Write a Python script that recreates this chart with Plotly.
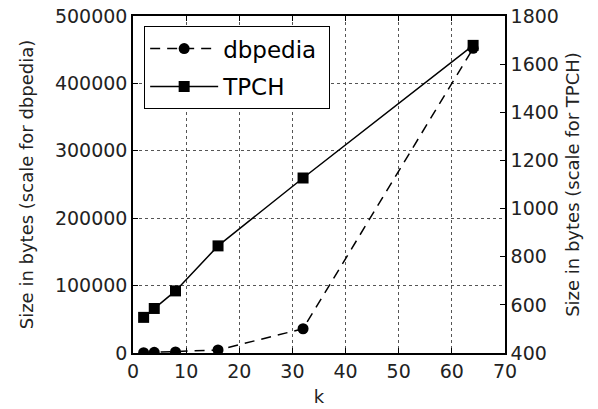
import plotly.graph_objects as go

k = [2, 4, 8, 16, 32, 64]
dbpedia = [500, 1000, 1500, 4500, 36000, 452000]
tpch = [548, 585, 658, 845, 1127, 1678]
names = ["dbpedia", "TPCH"]

font = "DejaVu Sans"
fig = go.Figure()
fig.add_trace(go.Scatter(x=k, y=dbpedia, name=names[0] + "\u00a0", mode="lines+markers", legendgroup="a",
                         line=dict(color="black", width=1.5, dash="10px,7px"),
                         marker=dict(symbol="circle", size=11, color="black"),
                         yaxis="y"))
fig.add_trace(go.Scatter(x=k, y=tpch, name=names[1], mode="lines+markers", legendgroup="b",
                         line=dict(color="black", width=1.5),
                         marker=dict(symbol="square", size=11, color="black"),
                         yaxis="y2"))

axis_common = dict(showline=True, linecolor="black", linewidth=1.5, ticks="inside",
                   ticklen=5, tickcolor="black", zeroline=False, automargin=False,
                   tickfont=dict(size=19, color="#222"))

fig.update_layout(
    width=598, height=409,
    margin=dict(l=133, r=93, t=16, b=56),
    paper_bgcolor="white", plot_bgcolor="white",
    font=dict(family=font, size=18, color="#222"),
    showlegend=True,
    legend=dict(x=0.03, y=0.97, xanchor="left", yanchor="top",
                bordercolor="black", borderwidth=1, bgcolor="white",
                font=dict(size=23, color="black"), tracegroupgap=5,
                itemwidth=68),
    xaxis=dict(range=[0, 70], dtick=10, mirror="ticks",
               showgrid=True, gridcolor="#555", griddash="dot", gridwidth=1,
               title=dict(text="k", standoff=10, font=dict(size=18)), **axis_common),
    yaxis=dict(range=[0, 500000], dtick=100000, tickformat="d",
               showgrid=True, gridcolor="#555", griddash="dot", gridwidth=1,
               title=dict(text="Size in bytes (scale for dbpedia)", standoff=17,
                          font=dict(size=18)), **axis_common),
    yaxis2=dict(range=[400, 1800], dtick=200, overlaying="y", side="right",
                showgrid=False,
                title=dict(text="Size in bytes (scale for TPCH)", standoff=8,
                           font=dict(size=18)), **axis_common),
)
fig.write_html("out.html", config={"displayModeBar": False},
               post_script="document.body.style.margin='0';document.body.style.overflow='hidden';")
